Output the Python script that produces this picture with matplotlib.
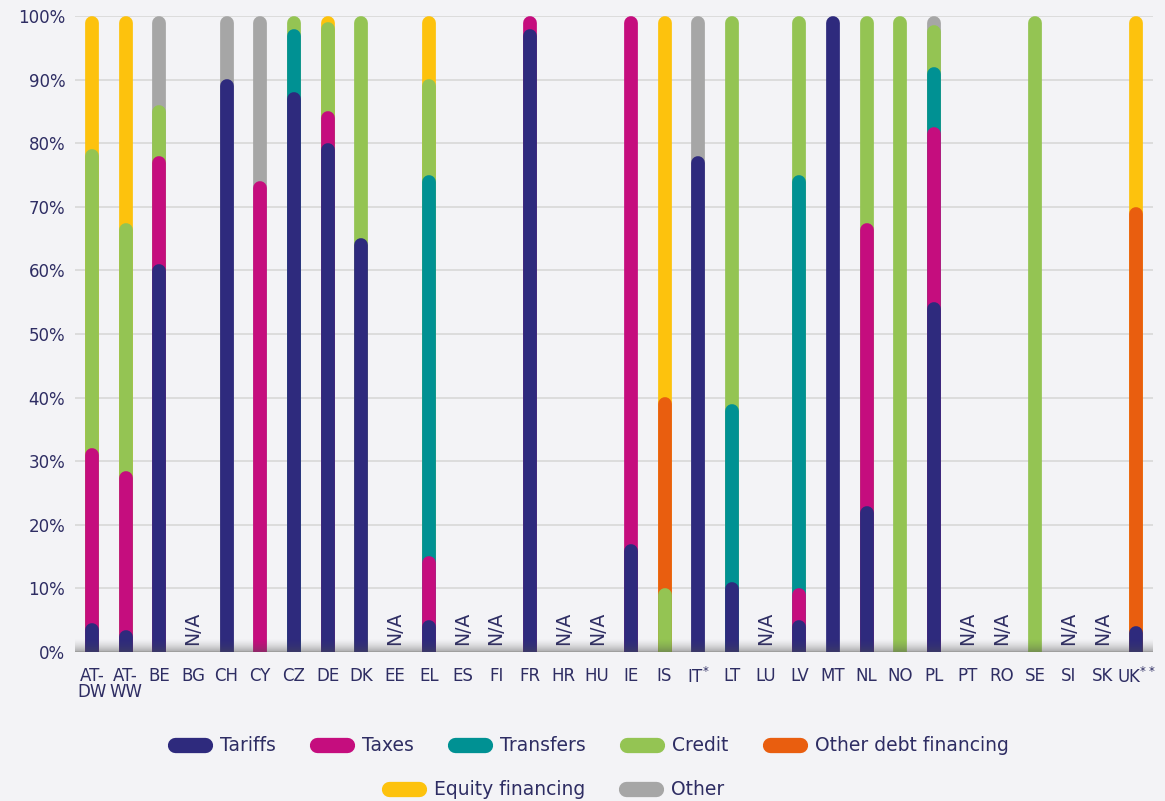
import numpy as np
import matplotlib.pyplot as plt
from matplotlib.lines import Line2D

# Countries (N/A ones have no data)
countries = ['AT-\nDW', 'AT-\nWW', 'BE', 'BG', 'CH', 'CY', 'CZ', 'DE', 'DK', 'EE', 'EL', 'ES',
             'FI', 'FR', 'HR', 'HU', 'IE', 'IS', r'IT$^{*}$', 'LT', 'LU', 'LV', 'MT', 'NL',
             'NO', 'PL', 'PT', 'RO', 'SE', 'SI', 'SK', r'UK$^{**}$']
not_available = ['BG', 'EE', 'ES', 'FI', 'HR', 'HU', 'LU', 'PT', 'RO', 'SI', 'SK']

# Share of each funding source (%), same order as countries
tariffs    = [4.5, 3.5, 61, 0, 90, 0, 88, 80, 65, 0, 5, 0, 0, 98, 0, 0, 17, 0, 78, 11, 0, 5, 100, 23, 0, 55, 0, 0, 0, 0, 0, 4]
taxes      = [27.5, 25, 17, 0, 0, 74, 0, 5, 0, 0, 10, 0, 0, 2, 0, 0, 83, 0, 0, 0, 0, 5, 0, 44.5, 0, 27.5, 0, 0, 0, 0, 0, 0]
transfers  = [0, 0, 0, 0, 0, 0, 10, 0, 0, 0, 60, 0, 0, 0, 0, 0, 0, 0, 0, 28, 0, 65, 0, 0, 0, 9.5, 0, 0, 0, 0, 0, 0]
credit     = [47, 39, 8, 0, 0, 0, 2, 14, 35, 0, 15, 0, 0, 0, 0, 0, 0, 10, 0, 61, 0, 25, 0, 32.5, 100, 6.5, 0, 0, 100, 0, 0, 0]
other_debt = [0, 0, 0, 0, 0, 0, 0, 0, 0, 0, 0, 0, 0, 0, 0, 0, 0, 30, 0, 0, 0, 0, 0, 0, 0, 0, 0, 0, 0, 0, 0, 66]
equity     = [21, 32.5, 0, 0, 0, 0, 0, 1, 0, 0, 10, 0, 0, 0, 0, 0, 0, 60, 0, 0, 0, 0, 0, 0, 0, 0, 0, 0, 0, 0, 0, 30]
other      = [0, 0, 14, 0, 10, 26, 0, 0, 0, 0, 0, 0, 0, 0, 0, 0, 0, 0, 22, 0, 0, 0, 0, 0, 0, 1.5, 0, 0, 0, 0, 0, 0]

series = [tariffs, taxes, transfers, credit, other_debt, equity, other]
labels = ['Tariffs', 'Taxes', 'Transfers', 'Credit', 'Other debt financing', 'Equity financing', 'Other']
colors = ['#2e2a7d', '#c50d7e', '#009193', '#94c453', '#e95e0f', '#fdc20d', '#a6a6a6']

bg = '#f3f3f6'
txt = '#2e2d63'

fig = plt.figure(figsize=(11.65, 8.01), dpi=100, facecolor=bg)
ax = fig.add_axes([0.0644, 0.186, 0.9253, 0.794], facecolor=bg)

n = len(countries)
x = np.arange(n)
ax.set_xlim(-0.5, n - 0.5)
ax.set_ylim(0, 100)

# bar width and radius of the round caps in data units
bar_lw = 9.9
px_per_unit = ax.get_position().height * fig.get_figheight() * fig.dpi / 100
r = bar_lw * fig.dpi / 72 / 2 / px_per_unit

cum = np.cumsum(np.array(series, dtype=float), axis=0)
# draw top series first so lower segments sit on top of them
for k in range(len(series) - 1, -1, -1):
    for i in range(n):
        if series[k][i] <= 0:
            continue
        ax.plot([x[i], x[i]], [-5, cum[k][i] - r], color=colors[k], lw=bar_lw,
                solid_capstyle='round', zorder=3 + (len(series) - k) * 0.1)

# N/A markers
for i, c in enumerate(countries):
    if c in not_available:
        ax.text(x[i], 1.1, 'N/A', rotation=90, ha='center', va='bottom',
                fontsize=13.5, color=txt, zorder=5)

# soft shadow at the base
grad = np.zeros((60, 1, 4))
grad[..., :3] = 0.3
grad[:, 0, 3] = np.linspace(0.6, 0, 60) ** 1.6
ax.imshow(grad, extent=(-0.5, n - 0.5, 0, 2.2), origin='lower', aspect='auto', zorder=6)

ax.set_yticks(np.arange(0, 101, 10))
ax.set_yticklabels([f'{v}%' for v in range(0, 101, 10)])
ax.set_xticks(x)
ax.set_xticklabels(countries, linespacing=0.85, va='top')
ax.tick_params(axis='y', length=0, pad=7, labelsize=12, labelcolor=txt)
ax.tick_params(axis='x', length=0, pad=11, labelsize=12, labelcolor=txt)
ax.grid(axis='y', color='#dadada', lw=1.3, zorder=0)
for s in ax.spines.values():
    s.set_visible(False)

def handle(c):
    return Line2D([], [], color=c, lw=11, solid_capstyle='round')

leg_kw = dict(frameon=False, fontsize=13.5, handlelength=1.6, handletextpad=0.8,
              columnspacing=2.2, borderpad=0, labelcolor=txt, loc='center')
fig.legend([handle(c) for c in colors[:5]], labels[:5], ncol=5,
           bbox_to_anchor=(0.508, 0.069), **leg_kw)
fig.legend([handle(c) for c in colors[5:]], labels[5:], ncol=2,
           bbox_to_anchor=(0.478, 0.014), **leg_kw)

fig.savefig('out.png', dpi=100, facecolor=bg)
